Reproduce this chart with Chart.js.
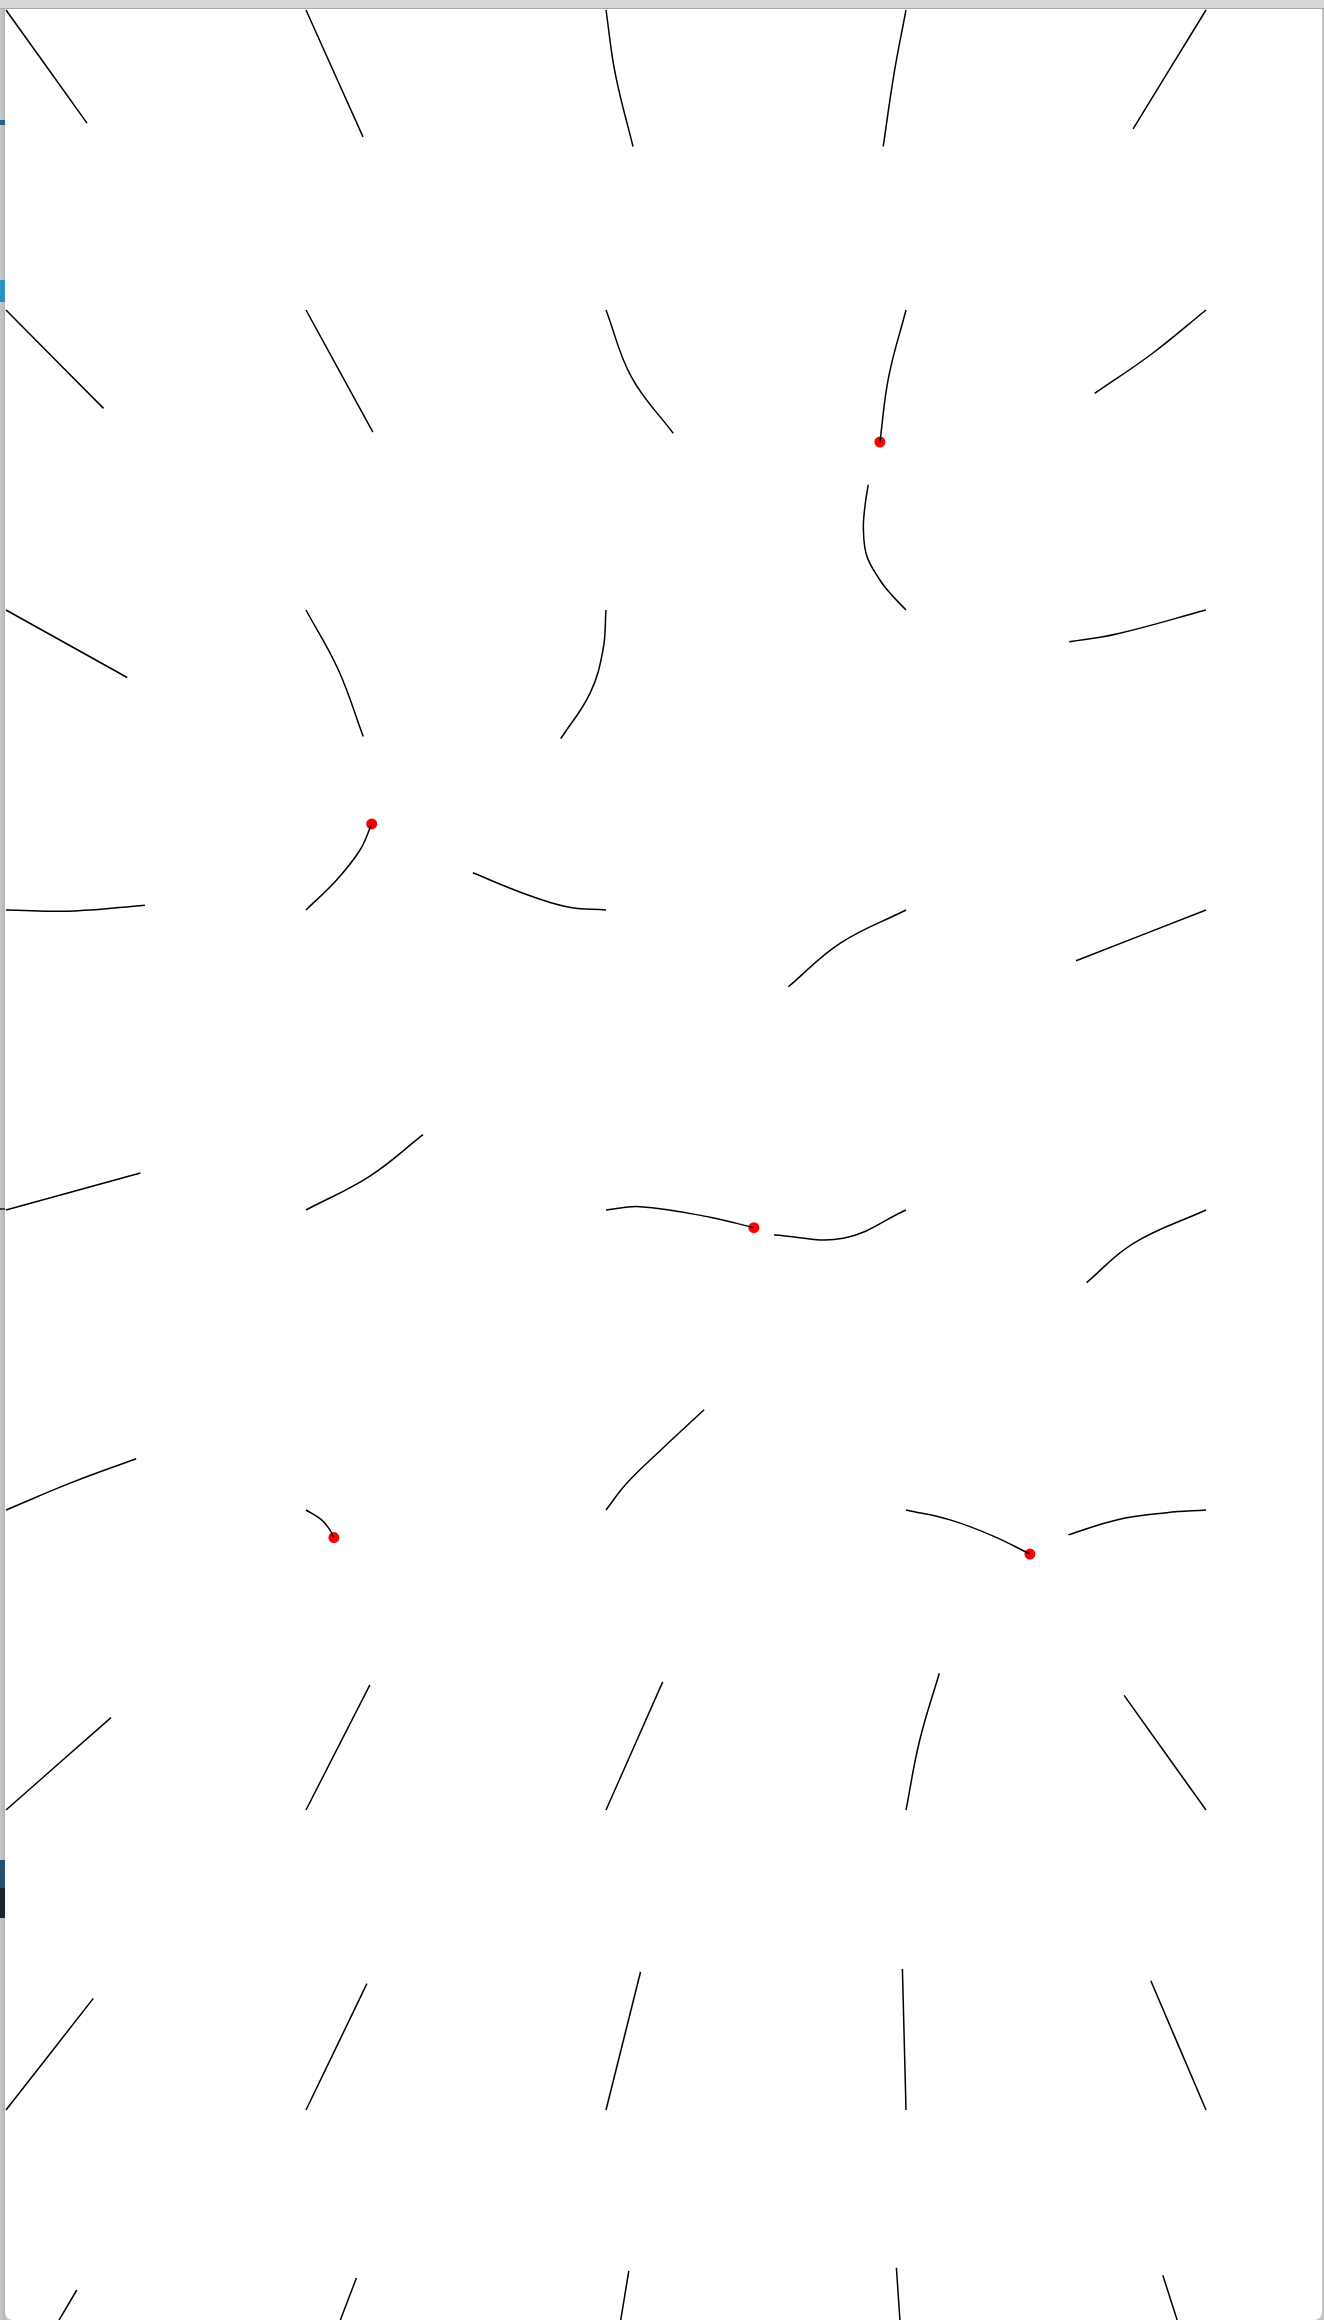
<!DOCTYPE html>
<html>
<head>
<meta charset="utf-8">
<script src="https://cdn.jsdelivr.net/npm/chart.js@4.4.1/dist/chart.umd.min.js"></script>
<style>
  html, body { margin: 0; padding: 0; width: 1324px; height: 2320px; overflow: hidden; background: #c4c4c4; font-family: "Noto Sans", sans-serif; }
  #topbar { position: absolute; left: 0; top: 0; width: 1324px; height: 8px; background: #d7d7d9; border-bottom: 1px solid #a9a9a9; }
  #leftstrip { position: absolute; left: 0; top: 9px; width: 5px; height: 2311px; background: linear-gradient(to right, #c9c9c9, #b4b4b4); }
  #panel { position: absolute; left: 5px; top: 9px; width: 1317px; height: 2311px; background: #ffffff; border-radius: 0 0 8px 8px; }
  .frag { position: absolute; left: 0; width: 5px; }
  #wrap { position: absolute; left: 0; top: 0; width: 1324px; height: 2320px; }
</style>
</head>
<body>
<div id="topbar"></div>
<div id="leftstrip"></div>
<div class="frag" style="top:120px;height:5px;background:#2b5b82"></div>
<div class="frag" style="top:280px;height:22px;background:#2a8fc4"></div>
<div class="frag" style="top:1208px;height:2px;background:#444"></div>
<div class="frag" style="top:1860px;height:28px;background:#274f6e"></div>
<div class="frag" style="top:1888px;height:30px;background:#1c2430"></div>
<div id="panel"></div>
<div id="wrap"><canvas id="c" width="1324" height="2320"></canvas></div>
<script>
// Streamlines of a direction field, seeded on a 5 x 9 grid (column, row units).
// Each streamline: list of x values and list of y values (grid units, row axis grows downward).
const lineX = [
  // row 0
  [0, 0.27], [1, 1.19], [2, 2.031, 2.09], [3, 2.96, 2.924], [4, 3.757],
  // row 1
  [0, 0.325], [1, 1.223], [2, 2.085, 2.224], [3, 2.942, 2.913], [4, 3.821, 3.629],
  // row 2
  [0, 0.404], [1, 1.108, 1.191], [2, 1.99, 1.947, 1.849],
  [3, 2.947, 2.913, 2.87, 2.858, 2.863, 2.874], [4, 3.702, 3.544],
  // row 3
  [0, 0.23, 0.463], [1, 1.102, 1.18, 1.219], [2, 1.869, 1.724, 1.556],
  [3, 2.78, 2.608], [4, 3.567],
  // row 4
  [0, 0.448], [1, 1.213, 1.39], [2, 2.113, 2.347, 2.493],
  [3, 2.791, 2.56], [4, 3.758, 3.602],
  // row 5
  [0, 0.22, 0.434], [1, 1.052, 1.08, 1.093], [2, 2.069, 2.183, 2.327], [3, 3.147, 3.291, 3.413], [4, 3.869, 3.702, 3.541],
  // row 6
  [0, 0.35], [1, 1.213], [2, 2.189], [3, 3.045, 3.111], [4, 3.727],
  // row 7
  [0, 0.291], [1, 1.203], [2, 2.115], [3, 2.988], [4, 3.816],
  // row 8
  [0, 0.236], [1, 1.168], [2, 2.076], [3, 2.968], [4, 3.856]
];
const lineY = [
  // row 0
  [0, 0.377], [0, 0.423], [0, 0.213, 0.455], [0, 0.213, 0.455], [0, 0.396],
  // row 1
  [1, 1.328], [1, 1.407], [1, 1.224, 1.411], [1, 1.224, 1.44], [1, 1.145, 1.278],
  // row 2
  [2, 2.225], [2, 2.2, 2.422], [2, 2.133, 2.277, 2.429],
  [2, 1.944, 1.9, 1.822, 1.733, 1.656, 1.583], [2, 2.08, 2.106],
  // row 3
  [3, 3.003, 2.984], [3, 2.9, 2.8, 2.713], [3, 2.989, 2.944, 2.876],
  [3, 3.111, 3.256], [3, 3.169],
  // row 4
  [4, 3.877], [4, 3.887, 3.749], [4, 3.989, 4.024, 4.059],
  [4, 4.094, 4.083], [4, 4.111, 4.242],
  // row 5
  [5, 4.908, 4.829], [5, 5.033, 5.067, 5.092], [5, 4.911, 4.8, 4.666], [5, 5.033, 5.087, 5.147], [5, 5.009, 5.033, 5.083],
  // row 6
  [6, 5.692], [6, 5.583], [6, 5.573], [6, 5.77, 5.544], [6, 5.618],
  // row 7
  [7, 6.628], [7, 6.579], [7, 6.54], [7, 6.53], [7, 6.569],
  // row 8
  [8, 7.6], [8, 7.56], [8, 7.536], [8, 7.526], [8, 7.551]
];
// Singular points where streamlines terminate
const sinkX = [2.913, 1.219, 2.493, 1.093, 3.413];
const sinkY = [1.44, 2.713, 4.059, 5.092, 5.147];

const datasets = lineX.map((xs, i) => ({
  data: xs.map((x, k) => ({ x: x, y: lineY[i][k] })),
  showLine: true,
  borderColor: '#000000',
  borderWidth: 1.5,
  pointRadius: 0,
  pointHoverRadius: 0,
  tension: 0.4,
  fill: false
}));
datasets.push({
  data: sinkX.map((x, k) => ({ x: x, y: sinkY[k] })),
  showLine: false,
  pointRadius: 5.5,
  pointHoverRadius: 5.5,
  pointBackgroundColor: '#ff0000',
  pointBorderColor: '#ff0000',
  pointBorderWidth: 0
});

new Chart(document.getElementById('c'), {
  type: 'scatter',
  data: { datasets: datasets },
  options: {
    responsive: false,
    animation: false,
    events: [],
    layout: { padding: 0, autoPadding: false },
    plugins: { legend: { display: false }, tooltip: { enabled: false } },
    scales: {
      x: { type: 'linear', display: false, min: -0.02, max: 4.3933 },
      y: { type: 'linear', display: false, reverse: true, min: -0.0333, max: 7.7 }
    }
  }
});
</script>
</body>
</html>
